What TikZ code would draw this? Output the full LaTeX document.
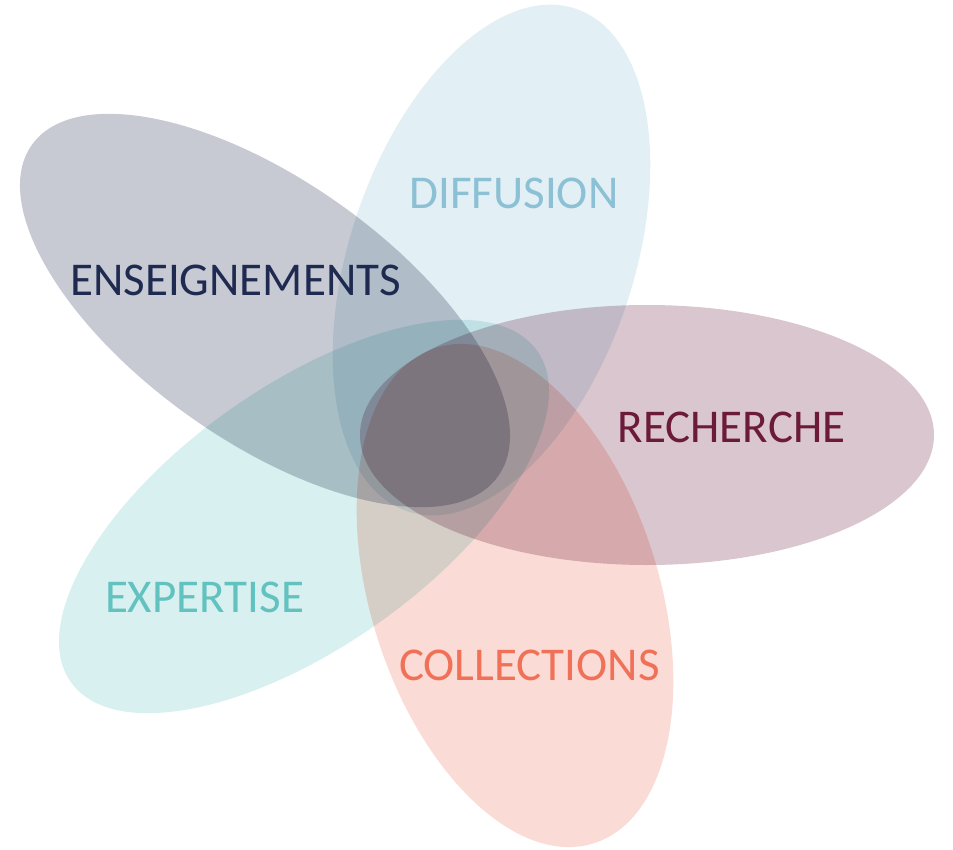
\documentclass[tikz,border=0pt]{standalone}
\usepackage{fontspec}
\setmainfont{Carlito}
\usetikzlibrary{positioning}

\definecolor{enscol}{HTML}{1F2A51}
\definecolor{difcol}{HTML}{8CC0D4}
\definecolor{reccol}{HTML}{6B1A3A}
\definecolor{expcol}{HTML}{62C2C0}
\definecolor{colcol}{HTML}{F07158}

\tikzset{
	petal/.style={fill=#1!25},
	petaltext/.style={font=\fontsize{47}{50}\selectfont, text=#1, inner sep=0pt}
}

\begin{document}
\begin{tikzpicture}[x=1pt,y=-1pt]
	\useasboundingbox (0,0) rectangle (953,850);

	% the five petals
	\begin{scope}[blend mode=multiply]
	\foreach \cx/\cy/\ra/\rb/\rot/\col in {265/310.5/286/130/-35.4/enscol, 491.5/260/265/142/71.5/difcol, 647/435/287/130/0/reccol, 304/516.5/286/130/35.4/expcol, 515/595.5/260/144/-72.3/colcol}{
	\fill[petal=\col] (\cx,\cy) ellipse [x radius=\ra, y radius=\rb, rotate=\rot];
	}
	\end{scope}

	\node[petaltext=enscol] (ens) at (235.5,280) {ENSEIGNEMENTS};
	\node[petaltext=difcol] (dif) at (514,193) {DIFFUSION};
	\node[petaltext=reccol] (rec) at (731.5,427) {RECHERCHE};
	\node[petaltext=expcol] (exp) at (204.5,597) {EXPERTISE};
	\node[petaltext=colcol] (col) at (529.5,665) {COLLECTIONS};
\end{tikzpicture}
\end{document}
